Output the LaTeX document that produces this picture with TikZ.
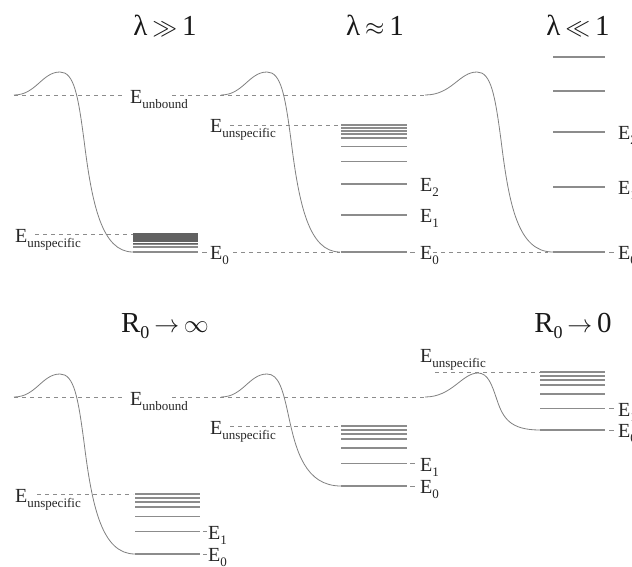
\documentclass[tikz,border=0pt]{standalone}
\usepackage{fontspec}
\setmainfont{Liberation Serif}
\tikzset{
 crv/.style={draw=black!50, line width=0.8pt},
 lvl/.style={draw=black!45, line width=1.2pt},
 lvldk/.style={draw=black!62, line width=1.2pt},
 dsh/.style={draw=black!45, line width=0.8pt, dash pattern=on 4pt off 4pt},
 tk/.style={draw=black!45, line width=0.8pt},
 lab/.style={anchor=base west, inner sep=0pt, text=black!85, font=\fontsize{20}{20}\selectfont},
 ttl/.style={anchor=base, inner sep=0pt, text=black!90, font=\fontsize{29}{29}\selectfont},
}
\newcommand{\Elab}[1]{E\raisebox{-5pt}{\fontsize{13}{13}\selectfont #1}}
\newcommand{\Rsub}{R\raisebox{-6pt}{\fontsize{18}{18}\selectfont 0}}
\begin{document}
\begin{tikzpicture}[x=1pt,y=-1pt]
\clip (0,0) rectangle (632,566);
\fill[white] (0,0) rectangle (632,566);

% ---------------- titles ----------------
\node[ttl] (t1) at (165,35) {λ\,$\gg$\,1};
\node[ttl] (t2) at (375,35) {λ\,$\approx$\,1};
\node[ttl] (t3) at (578,35) {λ\,$\ll$\,1};
\node[ttl] (t4) at (165,332) {\Rsub\,$\to$\,$\infty$};
\node[ttl] (t5) at (573,332) {\Rsub\,$\to$\,0};

% ================= TOP ROW =================
\draw[dsh] (14,95) -- (125,95);
\draw[dsh] (172,95) -- (425,95);
\draw[dsh] (35,234) -- (133,234);
\draw[dsh] (230,125) -- (340,125);
\draw[dsh] (233,252) -- (340,252);
\draw[dsh] (433,252) -- (548,252);
\draw[tk] (202,252) -- (207,252);
\draw[tk] (410,252) -- (415,252);
\draw[tk] (609,252) -- (614,252);

\draw[crv] (14,95) .. controls (36,95) and (42,72) .. (60,72)
  .. controls (74,72) and (78,95) .. (84,140)
  .. controls (92,205) and (102,252) .. (133,252);
\draw[crv] (221,95) .. controls (243,95) and (249,72) .. (267,72)
  .. controls (281,72) and (285,95) .. (291,140)
  .. controls (299,205) and (309,252) .. (340,252);
\draw[crv] (425,95) .. controls (452,95) and (459,72) .. (477,72)
  .. controls (491,72) and (495,95) .. (501,140)
  .. controls (509,205) and (518,252) .. (553,252);

\foreach \y in {234,235.3,236.6,237.9,239.2,240.5,241.8,243.2}
  \draw[lvldk] (133,\y) -- (198,\y);
\foreach \y in {244.5,247,252}
  \draw[lvl] (133,\y) -- (198,\y);
\foreach \y in {125,128,131,134,138,146.5,161.5,184,215,252}
  \draw[lvl] (341,\y) -- (407,\y);
\foreach \y in {57,91,132,187,252}
  \draw[lvl] (553,\y) -- (605,\y);

\node[lab] (ub1) at (130,103) {\Elab{unbound}};
\node[lab] (us1) at (15,242) {\Elab{unspecific}};
\node[lab] (us2) at (210,132) {\Elab{unspecific}};
\node[lab] (e01) at (210,259) {\Elab{0}};
\node[lab] (e02) at (420,259) {\Elab{0}};
\node[lab] (e12) at (420,222) {\Elab{1}};
\node[lab] (e22) at (420,191) {\Elab{2}};
\node[lab] (e03) at (618,259) {\Elab{0}};
\node[lab] (e13) at (618,194) {\Elab{1}};
\node[lab] (e23) at (618,139) {\Elab{2}};

% ================= BOTTOM ROW =================
\draw[dsh] (14,397) -- (125,397);
\draw[dsh] (172,397) -- (425,397);
\draw[dsh] (37,494) -- (133,494);
\draw[dsh] (230,426) -- (340,426);
\draw[dsh] (435,372) -- (540,372);
\draw[tk] (203,531.5) -- (207,531.5);
\draw[tk] (203,554) -- (207,554);
\draw[tk] (410,463.5) -- (415,463.5);
\draw[tk] (410,486) -- (415,486);
\draw[tk] (609,408.5) -- (614,408.5);
\draw[tk] (609,430) -- (614,430);

\draw[crv] (14,397) .. controls (36,397) and (42,374) .. (60,374)
  .. controls (74,374) and (78,397) .. (84,442)
  .. controls (92,507) and (102,554) .. (135,554);
\draw[crv] (221,397) .. controls (243,397) and (249,374) .. (267,374)
  .. controls (279,374) and (283,390) .. (289,418)
  .. controls (296,450) and (305,486) .. (341,486);
\draw[crv] (425,397) .. controls (452,397) and (462,373) .. (478,373)
  .. controls (488,373) and (492,385) .. (497,400)
  .. controls (503,418) and (510,430) .. (540,430);

\foreach \y in {494,498,502,507,516.5,531.5,554}
  \draw[lvl] (135,\y) -- (200,\y);
\foreach \y in {426,430,434,439,448,463.5,486}
  \draw[lvl] (341,\y) -- (407,\y);
\foreach \y in {372,376,380,385,394,408.5,430}
  \draw[lvl] (540,\y) -- (605,\y);

\node[lab] (ub4) at (130,405) {\Elab{unbound}};
\node[lab] (us4) at (15,502) {\Elab{unspecific}};
\node[lab] (us5) at (210,434) {\Elab{unspecific}};
\node[lab] (us6) at (420,362) {\Elab{unspecific}};
\node[lab] (e14) at (208,539) {\Elab{1}};
\node[lab] (e04) at (208,561) {\Elab{0}};
\node[lab] (e15) at (420,471) {\Elab{1}};
\node[lab] (e05) at (420,493) {\Elab{0}};
\node[lab] (e16) at (618,416) {\Elab{1}};
\node[lab] (e06) at (618,437) {\Elab{0}};
\end{tikzpicture}
\end{document}
